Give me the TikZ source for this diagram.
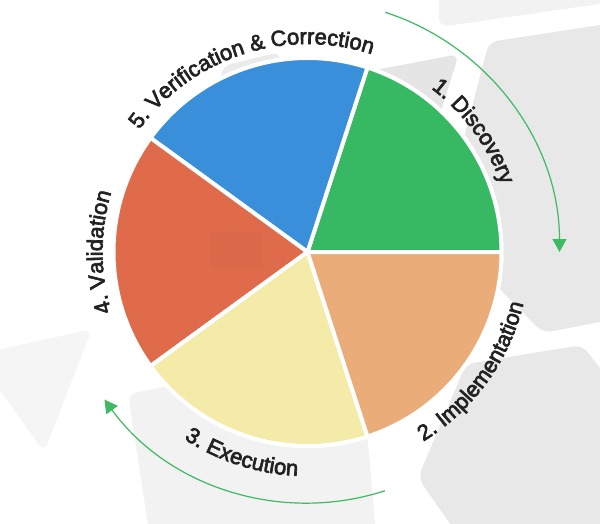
\documentclass[tikz,border=0pt]{standalone}
\usepackage{fontspec}
\setmainfont{Liberation Sans}
\newfontfamily\stepfamily[FakeBold=3]{Liberation Sans}
\usetikzlibrary{decorations.text,arrows.meta}

\definecolor{discgreen}{HTML}{37B863}
\definecolor{verblue}{HTML}{3A8FDB}
\definecolor{valred}{HTML}{E06B4B}
\definecolor{exeyellow}{HTML}{F3EBA7}
\definecolor{implorange}{HTML}{EAAC78}
\definecolor{flowgreen}{HTML}{3DBA62}
\definecolor{labelgrey}{HTML}{222222}
\newcommand\stepfont{\stepfamily\fontsize{22}{26}\selectfont\color{labelgrey}}

\begin{document}
\begin{tikzpicture}[x=1pt,y=1pt,
	slice/.style={ draw=white, line width=4pt, line join=round },
	bgshape/.style={ rounded corners=9pt },
	flow/.style={ flowgreen, line width=1.2pt, -{Triangle[length=13pt,width=14pt]} }
]

\fill[white] (0,0) rectangle (600,-523);
\useasboundingbox (0,0) rectangle (600,-523);

% grey tiles behind the wheel
\fill[bgshape, black!5] (439,20) -- (439,-27) -- (620,-1) -- (620,20) -- cycle;
\fill[bgshape, black!9] (489,-42) -- (620,-22) -- (620,-318) -- (543,-333) -- (440,-228) -- cycle;
\fill[bgshape, black!10] (360,-73) -- (459,-54) -- (430,-145) -- (360,-145) -- cycle;
\fill[bgshape, black!8] (222,-66) -- (281,-52) -- (272,-140) -- (215,-140) -- cycle;
\fill[bgshape, black!4] (-25,-355) -- (92,-329) -- (44,-452) -- cycle;
\fill[bgshape, black!5] (128,-394) -- (300,-361) -- (365,-410) -- (377,-545) -- (151,-545) -- cycle;
\fill[bgshape, black!9] (466,-364) -- (582,-345) -- (625,-400) -- (625,-545) -- (465,-545) -- (418,-478) -- cycle;

\begin{scope}[shift={(307.5,-252)}]
\coordinate (hub) at (0,0);
\fill[white] (hub) circle (196);

\foreach \a/\col in {0/discgreen, 72/verblue, 144/valred, 216/exeyellow, 288/implorange}
	\filldraw[slice, fill=\col] (hub) -- (\a:194) arc[start angle=\a, end angle=\a+72, radius=194] -- cycle;
\fill[black, opacity=0.02] (-97.5,20) rectangle (-44.5,-16);

% step names
\path[decorate, decoration={text along path, text align=center,
	text={|\stepfont|1. Discovery}}] (81:205) arc[start angle=81, end angle=-9, radius=205];
\path[decorate, decoration={text along path, text align=center,
	text={|\stepfont|5. Verification {\&} Correction}}] (160:208) arc[start angle=160, end angle=56, radius=208];
\path[decorate, decoration={text along path, text align=center,
	text={|\stepfont|4. Validation}}] (225:205) arc[start angle=225, end angle=135, radius=205];
\path[decorate, decoration={text along path, text align=center,
	text={|\stepfont|3. Execution}}] (207:224) arc[start angle=207, end angle=297, radius=224];
\path[decorate, decoration={text along path, text align=center,
	text={|\stepfont|2. Implementation}}] (279:222) arc[start angle=279, end angle=369, radius=222];

% direction of the cycle
\coordinate (topflow) at (72:252);
\coordinate (lowflow) at (288:251);
\draw[flow] (topflow) arc[start angle=72, end angle=0, radius=252];
\draw[flow] (lowflow) arc[start angle=288, end angle=216, radius=251];
\end{scope}

\end{tikzpicture}
\end{document}
